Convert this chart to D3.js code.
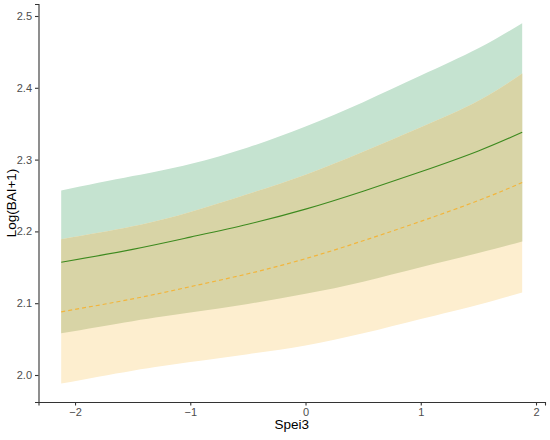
<!DOCTYPE html>
<html><head><meta charset="utf-8">
<script src="https://cdn.jsdelivr.net/npm/d3@7/dist/d3.min.js"></script>
<style>body{margin:0;background:#fff}svg{display:block}</style>
</head><body>
<svg id="chart" width="550" height="440"></svg>
<script>
// Spei3 positions
const spei = [-2.12, -1.5, -1.0, -0.5, 0.0, 0.5, 1.0, 1.5, 1.88];
// Green series (fit, lower, upper)
const greenFit   = [2.157, 2.175, 2.192, 2.210, 2.231, 2.256, 2.283, 2.312, 2.338];
const greenLower = [2.058, 2.075, 2.087, 2.099, 2.113, 2.130, 2.150, 2.170, 2.186];
const greenUpper = [2.257, 2.277, 2.294, 2.317, 2.346, 2.380, 2.417, 2.455, 2.490];
// Orange series (fit, lower, upper)
const orangeFit   = [2.088, 2.106, 2.123, 2.141, 2.162, 2.187, 2.214, 2.243, 2.268];
const orangeLower = [1.988, 2.006, 2.018, 2.029, 2.041, 2.058, 2.078, 2.098, 2.115];
const orangeUpper = [2.189, 2.207, 2.227, 2.252, 2.279, 2.311, 2.345, 2.382, 2.420];
const xTicks = [-2, -1, 0, 1, 2];
const yTicks = [2.0, 2.1, 2.2, 2.3, 2.4, 2.5];

const rows = spei.map((s, i) => ({
  x: s, gf: greenFit[i], gl: greenLower[i], gu: greenUpper[i],
  of: orangeFit[i], ol: orangeLower[i], ou: orangeUpper[i]
}));

const svg = d3.select("#chart");
const L = 38.5, R = 545, T = 4, B = 402;
const x = d3.scaleLinear().domain([-2.317, 2.078]).range([L, R]);
const y = d3.scaleLinear().domain([1.9624, 2.5167]).range([B, T]);
const curve = d3.curveNatural;

function band(lo, hi) {
  return d3.area().curve(curve).x(d => x(d.x)).y0(d => y(d[lo])).y1(d => y(d[hi]));
}
svg.append("path").datum(rows).attr("d", band("gl", "gu")).attr("fill", "#c5e3d0");
svg.append("path").datum(rows).attr("d", band("ol", "ou")).attr("fill", "#fdeecf");
svg.append("path").datum(rows).attr("d", band("gl", "ou")).attr("fill", "#d8d4a6");

svg.append("path").datum(rows)
  .attr("d", d3.line().curve(curve).x(d => x(d.x)).y(d => y(d.gf)))
  .attr("fill", "none").attr("stroke", "#3d8a1f").attr("stroke-width", 1.1);
svg.append("path").datum(rows)
  .attr("d", d3.line().curve(curve).x(d => x(d.x)).y(d => y(d.of)))
  .attr("fill", "none").attr("stroke", "#f2b53c").attr("stroke-width", 1.2)
  .attr("stroke-dasharray", "4,3");

const font = "Liberation Sans, Arial, sans-serif";
const xAxis = svg.append("g").attr("transform", `translate(0,${B})`)
  .call(d3.axisBottom(x).tickValues(xTicks).tickSize(3.5).tickPadding(3).tickFormat(d3.format("d")));
const yAxis = svg.append("g").attr("transform", `translate(${L},0)`)
  .call(d3.axisLeft(y).tickValues(yTicks).tickSize(3.5).tickPadding(3).tickFormat(d3.format(".1f")));
[xAxis, yAxis].forEach(g => {
  g.select(".domain").attr("stroke", "#333").attr("stroke-width", 1.1);
  g.selectAll(".tick line").attr("stroke", "#333").attr("stroke-width", 1.1);
  g.selectAll(".tick text").attr("fill", "#4d4d4d").style("font-family", font).style("font-size", "11px");
});

svg.append("text").attr("x", (L + R) / 2).attr("y", 429).attr("text-anchor", "middle")
  .style("font-family", font).style("font-size", "13.5px").attr("fill", "#000").text("Spei3");
svg.append("text").attr("transform", `translate(16,${(T + B) / 2}) rotate(-90)`).attr("text-anchor", "middle")
  .style("font-family", font).style("font-size", "13.5px").attr("fill", "#000").text("Log(BAI+1)");
</script>
</body></html>
